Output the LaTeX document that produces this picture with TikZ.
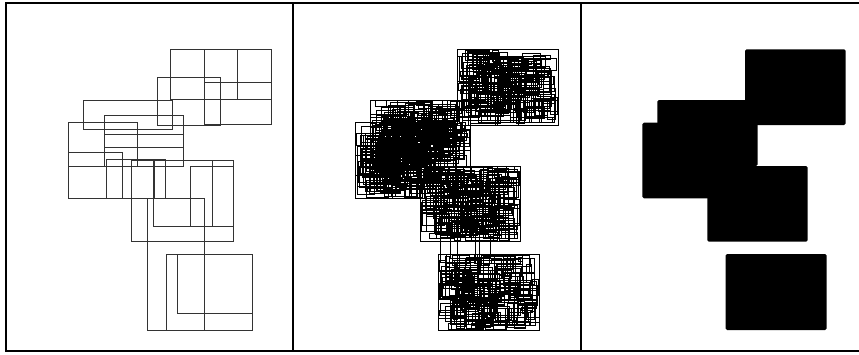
\documentclass[tikz,border=0pt]{standalone}
\usepackage{tikz}

\begin{document}
\begin{tikzpicture}[
    x=1pt, y=-1pt,
    frame/.style={line width=2pt, black},
    piece/.style={draw=black!80, line width=0.6pt},
    mesh/.style={draw=black, line width=0.5pt},
    blob/.style={fill=black, rounded corners=1.5pt}
]
    \useasboundingbox (0,0) rectangle (859,354);

    % Frame and dividers
    \draw[frame] (859,2.5) -- (6,2.5) -- (6,351) -- (859,351);
    \draw[frame] (293.3,2.5) -- (293.3,351);
    \draw[frame] (580.5,2.5) -- (580.5,351);

    % Left panel: loose boxes
    \foreach \xa/\ya/\xb/\yb in {
        170.7/49.3/237.3/99.3, 204.7/49.3/271.3/99.3, 204.7/82/271.3/124.7,
        157.3/77.3/220/125.3, 83.3/100.3/172.3/129.3, 104.7/115/183.3/134.7,
        104.7/134.7/183.3/147, 104.7/147/183.3/166, 68.3/122.3/137.3/166,
        68.3/152/122.3/198, 68.3/166/165.3/198, 106.7/159.3/165.3/198,
        154/159.3/165.3/198, 131.7/160/233.3/241.3, 153.3/160/212.3/226.7,
        190.7/166/233.3/226.7, 147.3/198.7/204.7/330, 166.3/254/252/330,
        177.3/254/252/313.3}
        \draw[piece] (\xa,\ya) rectangle (\xb,\yb);

    % Middle panel: dense boxes in each block
    \pgfmathsetseed{7}
    \foreach \xa/\ya/\xb/\yb/\n in {
        457.3/49.3/558.3/125/170, 370/100/470.5/166/160,
        355.3/122.7/455/198.3/160, 420/166/520.5/241.7/170,
        438.3/254/539.3/330.5/170}{
        \draw[mesh] (\xa,\ya) rectangle (\xb,\yb);
        \foreach \k in {1,...,\n}{
            \pgfmathsetmacro{\w}{(0.04+0.3*rnd)*(\xb-\xa)}
            \pgfmathsetmacro{\h}{(0.04+0.3*rnd)*(\yb-\ya)}
            \pgfmathsetmacro{\px}{\xa+rnd*(\xb-\xa-\w)}
            \pgfmathsetmacro{\py}{\ya+rnd*(\yb-\ya-\h)}
            \draw[mesh] (\px,\py) rectangle ++(\w,\h);
        }
    }
    % boxes spanning the gap
    \draw[mesh] (440.7,228) rectangle (475,262);
    \draw[mesh] (450.7,234) rectangle (490,258);
    \draw[mesh] (457.3,224) rectangle (479.3,270);

    % Right panel: merged blocks
    \fill[blob] (745,49.3) rectangle (845.7,125);
    \fill[blob] (657.3,100) rectangle (757.7,166);
    \fill[blob] (642.3,122.7) rectangle (740,198.3);
    \fill[blob] (707.3,166) rectangle (807.7,241.7);
    \fill[blob] (725.7,254) rectangle (826.7,330);
\end{tikzpicture}
\end{document}
